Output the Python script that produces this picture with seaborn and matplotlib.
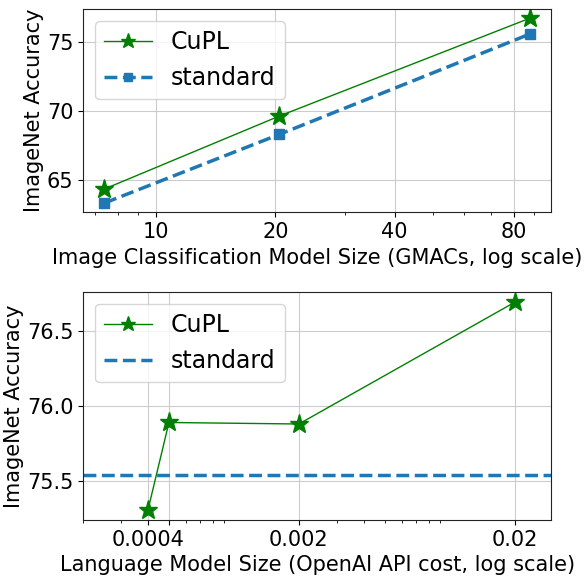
import matplotlib
matplotlib.use("Agg")
import matplotlib.pyplot as plt
import seaborn as sns
import pandas as pd

# ---- data (top: image classification model size) ----
gmacs = [7.39, 20.47, 87.8]
cupl_img = [64.38, 69.64, 76.68]
standard_img = [63.37, 68.32, 75.54]
top_ticks = [10, 20, 40, 80]
top_ticklabels = ["10", "20", "40", "80"]

# ---- data (bottom: language model size) ----
api_cost = [0.0004, 0.0005, 0.002, 0.02]
cupl_lm = [75.31, 75.89, 75.88, 76.69]
standard_lm = 75.54
bottom_ticks = [0.0004, 0.0005, 0.002, 0.02]
bottom_ticklabels = ["0.0004", "", "0.002", "0.02"]

plt.rcParams['font.family'] = ['DejaVu Sans']
plt.rcParams['grid.color'] = '#cccccc'
plt.rcParams['axes.edgecolor'] = '#222222'

fig = plt.figure(figsize=(5.85, 5.76), dpi=100)
ax1 = fig.add_axes([0.142, 0.6314, 0.800, 0.353])
ax2 = fig.add_axes([0.142, 0.0972, 0.800, 0.396])

TICK_FS = 15
LABEL_FS = 15
LEG_FS = 17

df_top = pd.DataFrame({"x": gmacs, "cupl": cupl_img, "std": standard_img})
sns.lineplot(data=df_top, x="x", y="cupl", ax=ax1, color="green", marker="*",
             markersize=14, markeredgecolor="green", markeredgewidth=1,
             linewidth=1, label="CuPL")
sns.lineplot(data=df_top, x="x", y="std", ax=ax1, color="#1f77b4", marker="s",
             markersize=7, markeredgecolor="#1f77b4", markeredgewidth=1,
             linewidth=2.5, linestyle="--", label="standard")
ax1.set_xscale("log")
ax1.set_xticks(top_ticks)
ax1.set_xticklabels(top_ticklabels)
ax1.grid(True)
ax1.set_xlabel("Image Classification Model Size (GMACs, log scale)", fontsize=LABEL_FS)
ax1.set_ylabel("ImageNet Accuracy", fontsize=LABEL_FS, labelpad=2)
ax1.tick_params(labelsize=TICK_FS)
ax1.legend(loc="upper left", fontsize=LEG_FS, markerscale=0.8)

df_bot = pd.DataFrame({"x": api_cost, "cupl": cupl_lm})
sns.lineplot(data=df_bot, x="x", y="cupl", ax=ax2, color="green", marker="*",
             markersize=14, markeredgecolor="green", markeredgewidth=1,
             linewidth=1, label="CuPL")
ax2.axhline(standard_lm, color="#1f77b4", linestyle="--", linewidth=2.5, label="standard")
ax2.set_xscale("log")
ax2.set_xlim(0.0002, 0.0295)
ax2.set_xticks(bottom_ticks)
ax2.set_xticklabels(bottom_ticklabels)
ax2.set_yticks([75.5, 76.0, 76.5])
ax2.grid(True)
ax2.set_xlabel("Language Model Size (OpenAI API cost, log scale)", fontsize=LABEL_FS)
ax2.set_ylabel("ImageNet Accuracy", fontsize=LABEL_FS, labelpad=2)
ax2.tick_params(labelsize=TICK_FS)
ax2.legend(loc="upper left", fontsize=LEG_FS, markerscale=0.8)

fig.savefig("out.png", dpi=100)
